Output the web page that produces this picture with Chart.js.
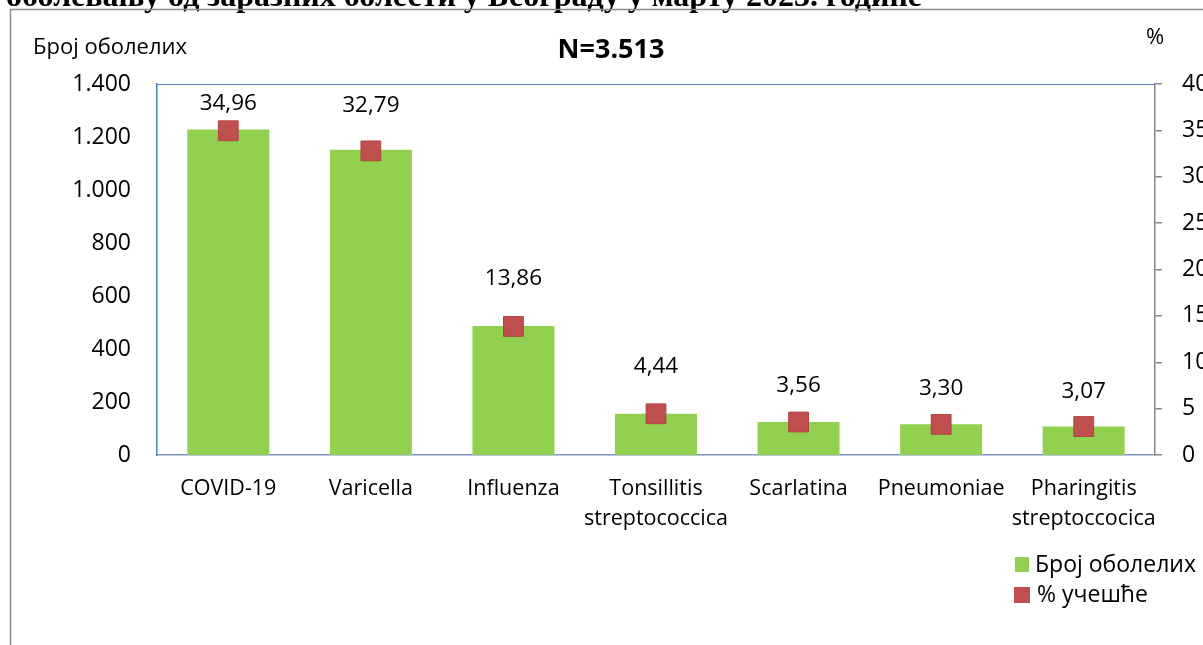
<!DOCTYPE html>
<html>
<head>
<meta charset="utf-8">
<script src="https://cdn.jsdelivr.net/npm/chart.js@4.4.0/dist/chart.umd.min.js"></script>
<style>
  html, body { margin: 0; padding: 0; background: #fff; }
  #wrap { width: 1203px; height: 645px; position: relative; }
</style>
</head>
<body>
<div id="wrap"><canvas id="chart" width="1203" height="645"></canvas></div>
<script>
// Data
const categories = [
  'COVID-19', 'Varicella', 'Influenza', ['Tonsillitis', 'streptococcica'],
  'Scarlatina', 'Pneumoniae', ['Pharingitis', 'streptoccocica']
];
const cases = [1228, 1152, 487, 156, 125, 116, 108];
const shares = [34.96, 32.79, 13.86, 4.44, 3.56, 3.30, 3.07];
const leftTicks = [0, 200, 400, 600, 800, 1000, 1200, 1400];
const rightTicks = [0, 5, 10, 15, 20, 25, 30, 35, 40];

const titleText = 'оболевању од заразних болести у Београду у марту 2023. године';
const totalText = 'N=3.513';
const leftAxisTitle = 'Број оболелих';
const rightAxisTitle = '%';

const FONT = '"Open Sans", "Noto Sans", sans-serif';
const GREEN = '#92d050';
const RED = '#c0504d';
// how far (px) each % label sits above its marker (hand-placed in the original)
const labelLift = [27, 45, 48, 47, 36, 36, 35];

function fmtThousands(v) {
  return String(v).replace(/\B(?=(\d{3})+(?!\d))/g, '.');
}

// Frame, titles, value labels and legend
const decorPlugin = {
  id: 'decor',
  afterDraw(chart) {
    const ctx = chart.ctx;
    const area = chart.chartArea;
    ctx.save();

    // cut-off report title at the very top
    ctx.fillStyle = '#000';
    ctx.font = 'bold 32px "Liberation Serif", "DejaVu Serif", serif';
    ctx.textBaseline = 'alphabetic';
    ctx.textAlign = 'left';
    ctx.fillText(titleText, 6, 6);

    // outer chart frame
    ctx.strokeStyle = '#8c8c8c';
    ctx.lineWidth = 1.5;
    ctx.beginPath();
    ctx.moveTo(10.5, 650);
    ctx.lineTo(10.5, 9.5);
    ctx.lineTo(1210, 9.5);
    ctx.stroke();

    // plot area top border
    ctx.strokeStyle = '#4f81bd';
    ctx.lineWidth = 1;
    ctx.beginPath();
    ctx.moveTo(area.left, area.top + 0.5);
    ctx.lineTo(area.right, area.top + 0.5);
    ctx.stroke();

    // axis titles and N
    ctx.fillStyle = '#000';
    ctx.font = '22px ' + FONT;
    ctx.textBaseline = 'middle';
    ctx.textAlign = 'left';
    ctx.fillText(leftAxisTitle, 33, 48);
    ctx.fillText(rightAxisTitle, 1146, 38);
    ctx.font = 'bold 27px ' + FONT;
    ctx.textAlign = 'center';
    ctx.fillText(totalText, 611, 50);

    // percentage labels above markers
    const meta = chart.getDatasetMeta(0);
    ctx.font = '22.5px ' + FONT;
    ctx.textAlign = 'center';
    meta.data.forEach((pt, i) => {
      ctx.fillText(shares[i].toFixed(2).replace('.', ','), pt.x, pt.y - labelLift[i]);
    });

    // legend
    const bars = chart.data.datasets[1];
    const marks = chart.data.datasets[0];
    ctx.font = '23px ' + FONT;
    ctx.textAlign = 'left';
    ctx.fillStyle = bars.backgroundColor;
    ctx.fillRect(1015, 557, 14, 15);
    ctx.fillStyle = marks.pointBackgroundColor;
    ctx.fillRect(1014, 587, 16, 16);
    ctx.fillStyle = '#000';
    ctx.fillText(bars.label, 1035, 565);
    ctx.fillText(marks.label, 1037, 595);

    ctx.restore();
  }
};

new Chart(document.getElementById('chart'), {
  data: {
    labels: categories,
    datasets: [
      {
        type: 'line',
        label: '% учешће',
        data: shares,
        yAxisID: 'y1',
        showLine: false,
        pointStyle: 'rect',
        pointRadius: 14,
        pointHoverRadius: 14,
        pointBackgroundColor: RED,
        pointBorderColor: '#b04440',
        pointBorderWidth: 1,
        order: 0
      },
      {
        type: 'bar',
        label: 'Број оболелих',
        data: cases,
        yAxisID: 'y',
        backgroundColor: GREEN,
        barPercentage: 0.575,
        categoryPercentage: 1,
        order: 1
      }
    ]
  },
  options: {
    responsive: false,
    animation: false,
    layout: { padding: { top: 84, left: 0, right: 0, bottom: 0 } },
    plugins: { legend: { display: false }, tooltip: { enabled: false } },
    scales: {
      x: {
        grid: { display: false, drawTicks: false },
        border: { color: '#7f95b8', width: 1.5 },
        ticks: { color: '#000', font: { family: FONT, size: 21.5, lineHeight: 1.4 }, padding: 19, maxRotation: 0, autoSkip: false },
        afterFit(scale) { scale.height = 190; }
      },
      y: {
        position: 'left',
        min: 0, max: 1400,
        afterBuildTicks(scale) { scale.ticks = leftTicks.map(v => ({ value: v })); },
        grid: { display: false, drawTicks: false },
        border: { color: '#4f81bd', width: 1.5 },
        ticks: { color: '#000', font: { family: FONT, size: 23 }, padding: 26, callback: v => fmtThousands(v) },
        afterFit(scale) { scale.width = 157; }
      },
      y1: {
        position: 'right',
        min: 0, max: 40,
        afterBuildTicks(scale) { scale.ticks = rightTicks.map(v => ({ value: v })); },
        grid: { drawOnChartArea: false, drawTicks: true, tickLength: 7, color: '#868686', lineWidth: 1.5 },
        border: { color: '#868686', width: 1.5 },
        ticks: { color: '#000', font: { family: FONT, size: 23 }, padding: 20 },
        afterFit(scale) { scale.width = 48; }
      }
    }
  },
  plugins: [decorPlugin]
});
</script>
</body>
</html>
